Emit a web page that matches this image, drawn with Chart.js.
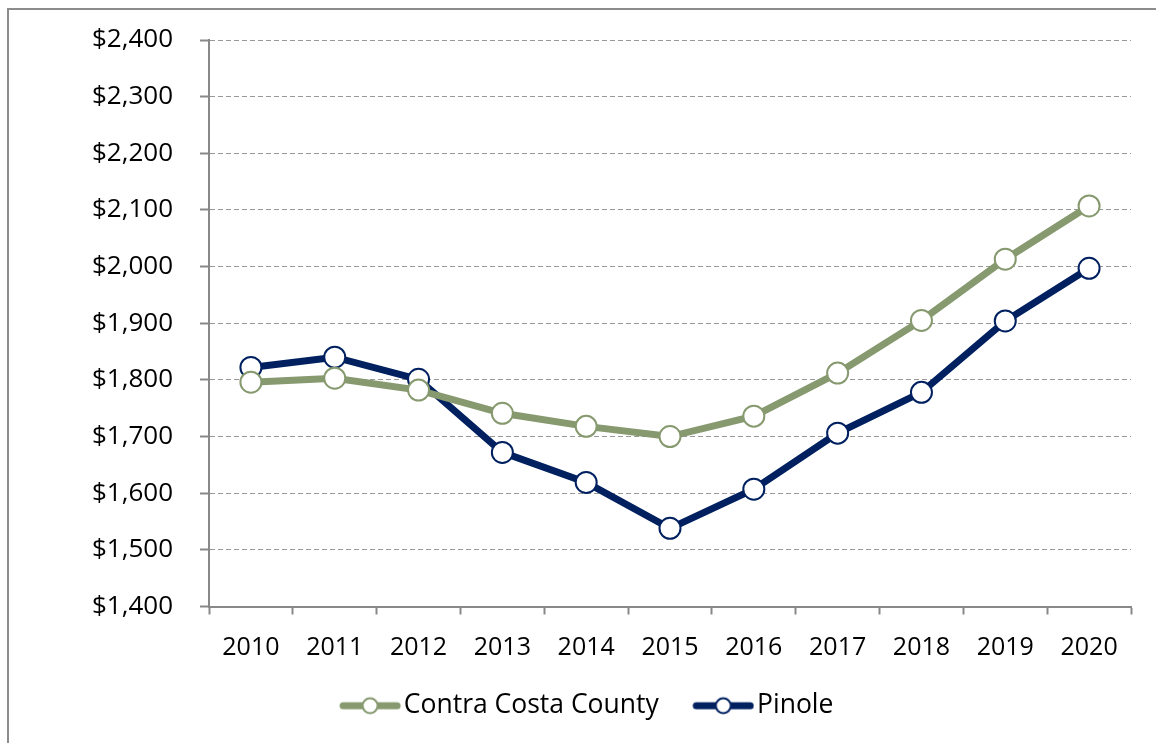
<!DOCTYPE html>
<html>
<head>
<meta charset="utf-8">
<script src="https://cdn.jsdelivr.net/npm/chart.js@4/dist/chart.umd.min.js"></script>
<style>
  html, body { margin: 0; padding: 0; background: #fff; overflow: hidden; }
  #frame {
    position: absolute; left: 7px; top: 8px; width: 1200px; height: 800px;
    border: 2px solid #8c8c8c; box-sizing: border-box;
  }
  #wrap { position: absolute; left: 0; top: 0; width: 1156px; height: 743px; }
</style>
</head>
<body>
<div id="frame"></div>
<div id="wrap"><canvas id="rentChart"></canvas></div>
<script>
const years = ["2010", "2011", "2012", "2013", "2014", "2015", "2016", "2017", "2018", "2019", "2020"];
const contraCosta = [1796, 1803, 1782, 1741, 1718, 1700, 1736, 1812, 1905, 2013, 2107];
const pinole = [1822, 1840, 1801, 1672, 1619, 1538, 1607, 1706, 1778, 1904, 1997];
const yMin = 1400;
const yMax = 2400;
const yStep = 100;

const green = "#86996f";
const navy = "#002060";
const axisGray = "#888888";

// little line+circle swatch used as the legend marker
function legendSwatch(color) {
  const c = document.createElement("canvas");
  c.width = 96;
  c.height = 20;
  const g = c.getContext("2d");
  g.strokeStyle = color;
  g.lineWidth = 7;
  g.lineCap = "round";
  g.beginPath();
  g.moveTo(38, 10);
  g.lineTo(92, 10);
  g.stroke();
  g.beginPath();
  g.arc(65, 10, 7.5, 0, Math.PI * 2);
  g.fillStyle = "#fff";
  g.fill();
  g.lineWidth = 2;
  g.stroke();
  return c;
}

const swatches = [legendSwatch(green), legendSwatch(navy)];

const ctx = document.getElementById("rentChart").getContext("2d");

new Chart(ctx, {
  type: "line",
  data: {
    labels: years,
    datasets: [
      {
        label: "Contra Costa County",
        data: contraCosta,
        borderColor: green,
        backgroundColor: "#fff",
        borderWidth: 7,
        pointRadius: 10.5,
        pointBorderWidth: 2,
        pointBackgroundColor: "#fff",
        pointBorderColor: green,
        tension: 0,
      },
      {
        label: "Pinole",
        data: pinole,
        borderColor: navy,
        backgroundColor: "#fff",
        borderWidth: 7,
        pointRadius: 10.5,
        pointBorderWidth: 2,
        pointBackgroundColor: "#fff",
        pointBorderColor: navy,
        tension: 0,
      },
    ],
  },
  options: {
    responsive: true,
    maintainAspectRatio: false,
    animation: false,
    layout: {
      padding: { left: 18, top: 40, right: 25, bottom: 14 },
    },
    plugins: {
      tooltip: { enabled: false },
      legend: {
        position: "bottom",
        labels: {
          color: "#000",
          font: { family: "Open Sans", size: 26.5 },
          usePointStyle: true,
          pointStyleWidth: 75,
          padding: 10,
          generateLabels: (chart) => {
            const items = Chart.defaults.plugins.legend.labels.generateLabels(chart);
            items.forEach((it, i) => {
              it.pointStyle = swatches[i];
            });
            return items;
          },
        },
      },
    },
    scales: {
      x: {
        offset: true,
        afterFit: (scale) => {
          scale.height += 2;
        },
        grid: {
          display: true,
          drawOnChartArea: false,
          offset: true,
          tickLength: 8,
          tickColor: axisGray,
          tickWidth: 2,
        },
        border: { color: axisGray, width: 2 },
        ticks: {
          color: "#000",
          padding: 18,
          font: { family: "Open Sans", size: 25 },
          maxRotation: 0,
        },
      },
      y: {
        min: yMin,
        max: yMax,
        afterFit: (scale) => {
          scale.width = 191;
          scale.paddingTop = 0;
          scale.paddingBottom = 0;
        },
        grid: {
          color: "#999999",
          lineWidth: 1,
          tickLength: 9,
          tickColor: axisGray,
          tickWidth: 2,
          tickBorderDash: [],
        },
        border: { color: axisGray, width: 2, dash: [5, 3] },
        ticks: {
          stepSize: yStep,
          color: "#000",
          padding: 27,
          font: { family: "Open Sans", size: 26 },
          callback: (v) => "$" + v.toLocaleString("en-US"),
        },
      },
    },
  },
});
</script>
</body>
</html>
